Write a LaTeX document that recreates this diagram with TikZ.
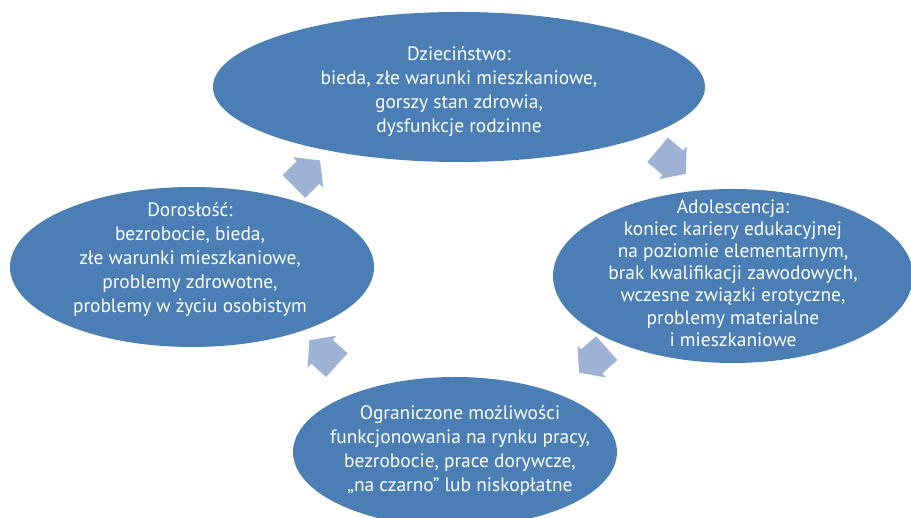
\documentclass[tikz,border=0pt]{standalone}
\usepackage{fontspec}
\setmainfont{PT Sans}
\usetikzlibrary{shapes.geometric}
\definecolor{bubblefill}{HTML}{4A7EB4}
\definecolor{arrowfill}{HTML}{9EB2D5}
% block arrow of the cycle: #1 name, #2 centre, #3 direction in degrees
\newcommand\cyclearrow[3]{%
  \coordinate (#1) at #2;
  \begin{scope}[shift={(#1)}, rotate=#3]
    \fill[arrowfill] (-18.5,-16) -- (1.5,-16) -- (1.5,-21.5) -- (18.5,0)
      -- (1.5,21.5) -- (1.5,16) -- (-18.5,16) -- cycle;
  \end{scope}}
\begin{document}
\begin{tikzpicture}[x=1pt,y=1pt,
  bubble/.style={ellipse, fill=bubblefill, draw=none, inner sep=0pt},
  bubbletext/.style={text=white, align=center, inner sep=0pt,
    font=\fontsize{19.4}{24}\selectfont}]
\useasboundingbox (0,0) rectangle (911,518);
\begin{scope}
  \clip (0,0) rectangle (911,518);
  % the four stages of the cycle
  \node[bubble, minimum width=492pt, minimum height=150pt] (child) at (459,431) {};
  \node[bubble, minimum width=360pt, minimum height=174pt] (youth) at (733,242) {};
  \node[bubble, minimum width=324pt, minimum height=150pt] (work)  at (455,66)  {};
  \node[bubble, minimum width=364pt, minimum height=160pt] (adult) at (192,251) {};
\end{scope}

\node[bubbletext] (childtext) at ([yshift=-5pt]child.center)
  {Dzieciństwo:\\bieda, złe warunki mieszkaniowe,\\gorszy stan zdrowia,\\dysfunkcje rodzinne};
\node[bubbletext, font=\fontsize{19.4}{22.2}\selectfont] (youthtext) at ([yshift=3pt]youth.center)
  {Adolescencja:\\koniec kariery edukacyjnej\\na poziomie elementarnym,\\brak kwalifikacji zawodowych,\\wczesne związki erotyczne,\\problemy materialne\\i mieszkaniowe};
\node[bubbletext] (worktext) at ([xshift=5pt,yshift=2pt]work.center)
  {Ograniczone możliwości\\funkcjonowania na rynku pracy,\\bezrobocie, prace dorywcze,\\„na czarno” lub niskopłatne};
\node[bubbletext] (adulttext) at ([xshift=-2pt,yshift=7pt]adult.center)
  {Dorosłość:\\bezrobocie, bieda,\\złe warunki mieszkaniowe,\\problemy zdrowotne,\\problemy w życiu osobistym};

% arrows leading round the cycle
\cyclearrow{a1}{(671.7,356.2)}{-40}
\cyclearrow{a2}{(592.9,157.6)}{-138.5}
\cyclearrow{a3}{(323.1,165.3)}{138}
\cyclearrow{a4}{(307,344.5)}{45}
\end{tikzpicture}
\end{document}
